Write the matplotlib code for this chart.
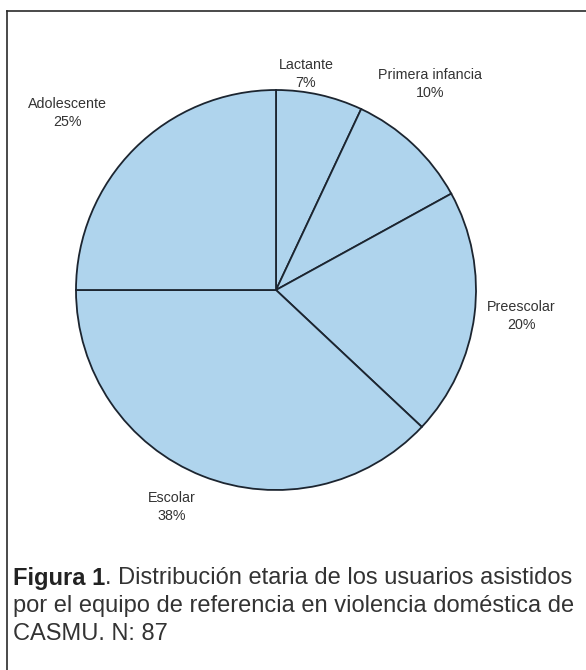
import matplotlib
matplotlib.use("Agg")
import matplotlib.pyplot as plt
from matplotlib.lines import Line2D

categories = ["Lactante", "Primera infancia", "Preescolar", "Escolar", "Adolescente"]
values = [7, 10, 20, 38, 25]
caption_bold = "Figura 1"
caption_lines = [". Distribución etaria de los usuarios asistidos",
                 "por el equipo de referencia en violencia doméstica de",
                 "CASMU. N: 87"]

# label anchor positions (pie radius = 1), layout only
label_pos = [(0.15, 1.08), (0.77, 1.03), (1.225, -0.13), (-0.52, -1.085), (-1.045, 0.885)]

W, H = 586, 670
DPI = 100
plt.rcParams['font.family'] = ['Liberation Sans', 'DejaVu Sans']
fig = plt.figure(figsize=(W / DPI, H / DPI), dpi=DPI)
fig.patch.set_facecolor('white')

cx, cy, r = 276, 290, 200
ax = fig.add_axes([(cx - r) / W, (H - cy - r) / H, 2 * r / W, 2 * r / H])
ax.pie(values, startangle=90, counterclock=False, colors=['#afd4ed'] * len(values),
       wedgeprops=dict(edgecolor='#1c2530', linewidth=1.3))
ax.set_xlim(-1, 1)
ax.set_ylim(-1, 1)
ax.set_aspect('equal')
ax.axis('off')

for cat, v, (lx, ly) in zip(categories, values, label_pos):
    ax.text(lx, ly, f"{cat}\n{v}%", ha='center', va='center', fontsize=10.3,
            color='#333333', linespacing=1.35, clip_on=False)

# frame lines (top & left)
fig.add_artist(Line2D([7 / W, 1.0], [1 - 11 / H, 1 - 11 / H], transform=fig.transFigure,
                      color='#2a2a2a', linewidth=1.2))
fig.add_artist(Line2D([7 / W, 7 / W], [1 - 11 / H, 0], transform=fig.transFigure,
                      color='#2a2a2a', linewidth=1.2))

# caption
fs = 17
x0 = 13 / W
ys = [578, 606, 634]
renderer = fig.canvas.get_renderer()
tb = fig.text(x0, 1 - ys[0] / H, caption_bold, fontsize=fs, fontweight='bold',
              color='#222222', va='center', ha='left')
bb = tb.get_window_extent(renderer=renderer)
fig.text(bb.x1 / W, 1 - ys[0] / H, caption_lines[0], fontsize=fs, color='#333333',
         va='center', ha='left')
for line, y in zip(caption_lines[1:], ys[1:]):
    fig.text(x0, 1 - y / H, line, fontsize=fs, color='#333333', va='center', ha='left')

fig.savefig("out.png", dpi=DPI)
